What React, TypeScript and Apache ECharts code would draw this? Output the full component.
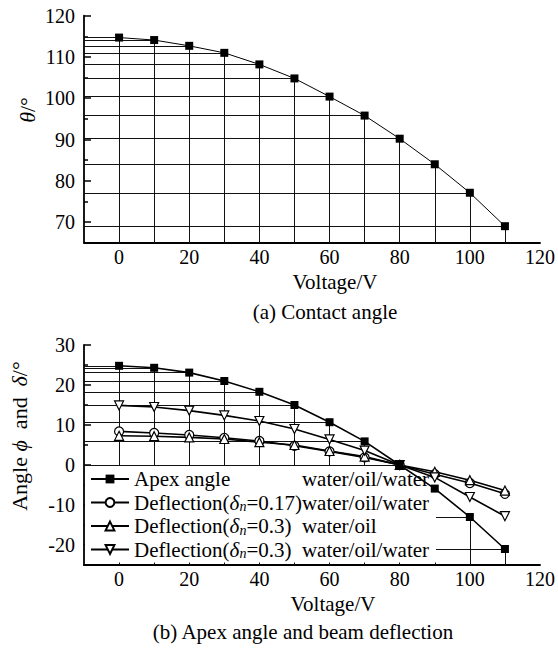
import React, { useEffect, useRef } from "react";
import * as echarts from "echarts";

// ---- data ----
const voltage = [0, 10, 20, 30, 40, 50, 60, 70, 80, 90, 100, 110];
const contactAngle = [114.7, 114.1, 112.7, 111.0, 108.2, 104.8, 100.4, 95.8, 90.2, 84.0, 77.1, 69.0];
const apexAngle = [24.8, 24.3, 23.1, 21.0, 18.3, 15.0, 10.7, 5.9, 0.0, -5.9, -13.0, -21.0];
const deflection017WOW = [8.4, 8.0, 7.5, 6.8, 6.0, 4.8, 3.4, 1.9, 0.0, -2.3, -4.5, -7.2];
const deflection03WO = [7.3, 7.2, 6.9, 6.5, 5.7, 5.0, 3.5, 2.1, 0.0, -1.7, -3.8, -6.4];
const deflection03WOW = [14.9, 14.5, 13.6, 12.4, 11.0, 9.0, 6.4, 3.6, 0.0, -3.1, -8.0, -12.8];

const xTickLabels = [0, 20, 40, 60, 80, 100, 120];
const yTopMajor = [70, 80, 90, 100, 110, 120];
const yTopMinor = [65, 75, 85, 95, 105, 115];
const yBotMajor = [-20, -10, 0, 10, 20, 30];
const yBotMinor = [-25, -15, -5, 5, 15, 25];

const FONT = '"Liberation Serif", "Times New Roman", serif';

function measure(text: string, font: string): number {
  const c = document.createElement("canvas");
  const ctx = c.getContext("2d");
  if (!ctx) return text.length * 9;
  ctx.font = font;
  return ctx.measureText(text).width;
}

function pairs(xs: number[], ys: number[]) {
  return xs.map((x, i) => [x, ys[i]]);
}

function dropLines(xs: number[], ys: number[], xMin: number, yMin: number) {
  const data: any[] = [];
  xs.forEach((x, i) => {
    data.push([{ coord: [xMin, ys[i]] }, { coord: [x, ys[i]] }]);
    data.push([{ coord: [x, ys[i]] }, { coord: [x, yMin] }]);
  });
  return {
    silent: true,
    z: 1,
    symbol: ["none", "none"],
    label: { show: false },
    lineStyle: { color: "#111", width: 1, type: "solid" },
    emphasis: { disabled: true },
    data,
  };
}

export default function App() {
  const ref = useRef<HTMLDivElement>(null);

  useEffect(() => {
    document.body.style.margin = "0";
    if (!ref.current) return;
    const chart = echarts.init(ref.current, null, { renderer: "svg" });

    const LF = 21;
    const fNorm = `${LF}px "Liberation Serif"`;
    const fIt = `italic ${LF}px "Liberation Serif"`;
    const fSub = `italic 14px "Liberation Serif"`;
    const wDefl = measure("Deflection(", fNorm);
    const wDelta = measure("δ", fIt);
    const wN = measure("n", fSub);
    const p2 = wDefl + wDelta + wN + measure("=0.17)", fNorm);
    const p3 = wDefl + wDelta + wN + measure("=0.3)", fNorm);

    const base = { fontFamily: FONT, fontSize: LF, color: "#000", lineHeight: 22 };
    const rich: any = {
      t: { ...base },
      d: { ...base, fontStyle: "italic" },
      s: { fontFamily: FONT, fontSize: 14, color: "#000", fontStyle: "italic", lineHeight: 8, verticalAlign: "bottom" },
      w: { ...base },
      a: { ...base, width: p2 },
      g: { ...base, width: Math.max(1, p2 - p3) },
    };
    const legendText: Record<string, string> = {
      apex: "{a|Apex angle}{w|water/oil/water}",
      d017: "{t|Deflection(}{d|δ}{s|n}{t|=0.17)}{w|water/oil/water}",
      d03wo: "{t|Deflection(}{d|δ}{s|n}{t|=0.3)}{g| }{w|water/oil}",
      d03wow: "{t|Deflection(}{d|δ}{s|n}{t|=0.3)}{g| }{w|water/oil/water}",
    };

    const tickLabel = { fontFamily: FONT, fontSize: 20, color: "#000" };
    const axisLineStyle = { color: "#000", width: 1.8 };

    const xAxisFor = (gi: number) => ({
      gridIndex: gi,
      type: "value",
      min: -10,
      max: 120,
      axisLine: { show: true, onZero: false, lineStyle: axisLineStyle },
      axisTick: { show: false },
      axisLabel: { ...tickLabel, margin: 4, customValues: xTickLabels },
      splitLine: { show: false },
    });
    const yMajor = (gi: number, min: number, max: number, vals: number[]) => ({
      gridIndex: gi,
      type: "value",
      min,
      max,
      position: "left",
      axisLine: { show: true, onZero: false, lineStyle: axisLineStyle },
      axisTick: { show: true, inside: true, length: 7, lineStyle: { color: "#000", width: 1.5 }, customValues: vals },
      axisLabel: { ...tickLabel, margin: 9, customValues: vals },
      splitLine: { show: false },
    });
    const yMinor = (gi: number, min: number, max: number, vals: number[]) => ({
      gridIndex: gi,
      type: "value",
      min,
      max,
      position: "left",
      offset: 0,
      axisLine: { show: false, onZero: false },
      axisTick: { show: true, inside: true, length: 4, lineStyle: { color: "#000", width: 1.5 }, customValues: vals },
      axisLabel: { show: false },
      splitLine: { show: false },
    });

    const blackLine = { color: "#000", width: 1.6 };
    const hollow = { color: "#fff", borderColor: "#000", borderWidth: 1.2 };

    const option: any = {
      animation: false,
      backgroundColor: "#fff",
      grid: [
        { left: 84, right: 18, top: 15.7, height: 227 },
        { left: 84, right: 18, top: 345, height: 220 },
      ],
      xAxis: [xAxisFor(0), xAxisFor(1)],
      yAxis: [
        yMajor(0, 65, 120, yTopMajor),
        yMinor(0, 65, 120, yTopMinor),
        yMajor(1, -25, 30, yBotMajor),
        yMinor(1, -25, 30, yBotMinor),
      ],
      legend: {
        show: true,
        z: 4,
        orient: "vertical",
        left: 85,
        top: 466,
        padding: [2, 7, 2, 5],
        itemGap: 1.5,
        itemWidth: 38,
        itemHeight: 11,
        backgroundColor: "#fff",
        selectedMode: false,
        data: ["apex", "d017", "d03wo", "d03wow"],
        formatter: (name: string) => legendText[name],
        textStyle: { ...base, rich },
      },
      series: [
        {
          name: "contact",
          type: "line",
          xAxisIndex: 0,
          yAxisIndex: 0,
          data: pairs(voltage, contactAngle),
          symbol: "rect",
          symbolSize: 8,
          itemStyle: { color: "#000" },
          lineStyle: { color: "#000", width: 1 },
          z: 6,
          markLine: dropLines(voltage, contactAngle, -10, 65),
        },
        {
          name: "d017",
          type: "line",
          xAxisIndex: 1,
          yAxisIndex: 2,
          data: pairs(voltage, deflection017WOW),
          symbol: "circle",
          symbolSize: 9,
          itemStyle: hollow,
          lineStyle: blackLine,
          z: 6,
        },
        {
          name: "d03wo",
          type: "line",
          xAxisIndex: 1,
          yAxisIndex: 2,
          data: pairs(voltage, deflection03WO),
          symbol: "triangle",
          symbolSize: 9,
          itemStyle: hollow,
          lineStyle: blackLine,
          z: 6,
        },
        {
          name: "d03wow",
          type: "line",
          xAxisIndex: 1,
          yAxisIndex: 2,
          data: pairs(voltage, deflection03WOW),
          symbol: "triangle",
          symbolRotate: 180,
          symbolSize: 9,
          itemStyle: hollow,
          lineStyle: blackLine,
          z: 6,
        },
        {
          name: "apex",
          type: "line",
          xAxisIndex: 1,
          yAxisIndex: 2,
          data: pairs(voltage, apexAngle),
          symbol: "rect",
          symbolSize: 8,
          itemStyle: { color: "#000" },
          lineStyle: blackLine,
          z: 7,
          markLine: dropLines(voltage, apexAngle, -10, -25),
        },
      ],
      graphic: [
        {
          type: "text",
          x: 27,
          y: 110,
          rotation: Math.PI / 2,
          style: {
            text: "{i|θ}{n|/°}",
            align: "center",
            verticalAlign: "middle",
            rich: {
              i: { fontFamily: FONT, fontSize: 22, fontStyle: "italic", fill: "#000" },
              n: { fontFamily: FONT, fontSize: 22, fill: "#000" },
            },
          },
        },
        {
          type: "text",
          x: 19,
          y: 436,
          rotation: Math.PI / 2,
          style: {
            text: "{n|Angle }{i|ϕ}{n|  and  }{i|δ}{n|/°}",
            align: "center",
            verticalAlign: "middle",
            rich: {
              i: { fontFamily: FONT, fontSize: 22, fontStyle: "italic", fill: "#000" },
              n: { fontFamily: FONT, fontSize: 22, fill: "#000" },
            },
          },
        },
        {
          type: "text",
          x: 335,
          y: 282,
          style: { text: "Voltage/V", fontFamily: FONT, fontSize: 21, fill: "#000", align: "center", verticalAlign: "middle" },
        },
        {
          type: "text",
          x: 325,
          y: 312,
          style: { text: "(a) Contact angle", fontFamily: FONT, fontSize: 21, fill: "#000", align: "center", verticalAlign: "middle" },
        },
        {
          type: "text",
          x: 333,
          y: 604,
          style: { text: "Voltage/V", fontFamily: FONT, fontSize: 21, fill: "#000", align: "center", verticalAlign: "middle" },
        },
        {
          type: "text",
          x: 303,
          y: 632,
          style: { text: "(b) Apex angle and beam deflection", fontFamily: FONT, fontSize: 21, fill: "#000", align: "center", verticalAlign: "middle" },
        },
      ],
    };

    chart.setOption(option);
    return () => chart.dispose();
  }, []);

  return <div ref={ref} style={{ width: 558, height: 650 }} />;
}
